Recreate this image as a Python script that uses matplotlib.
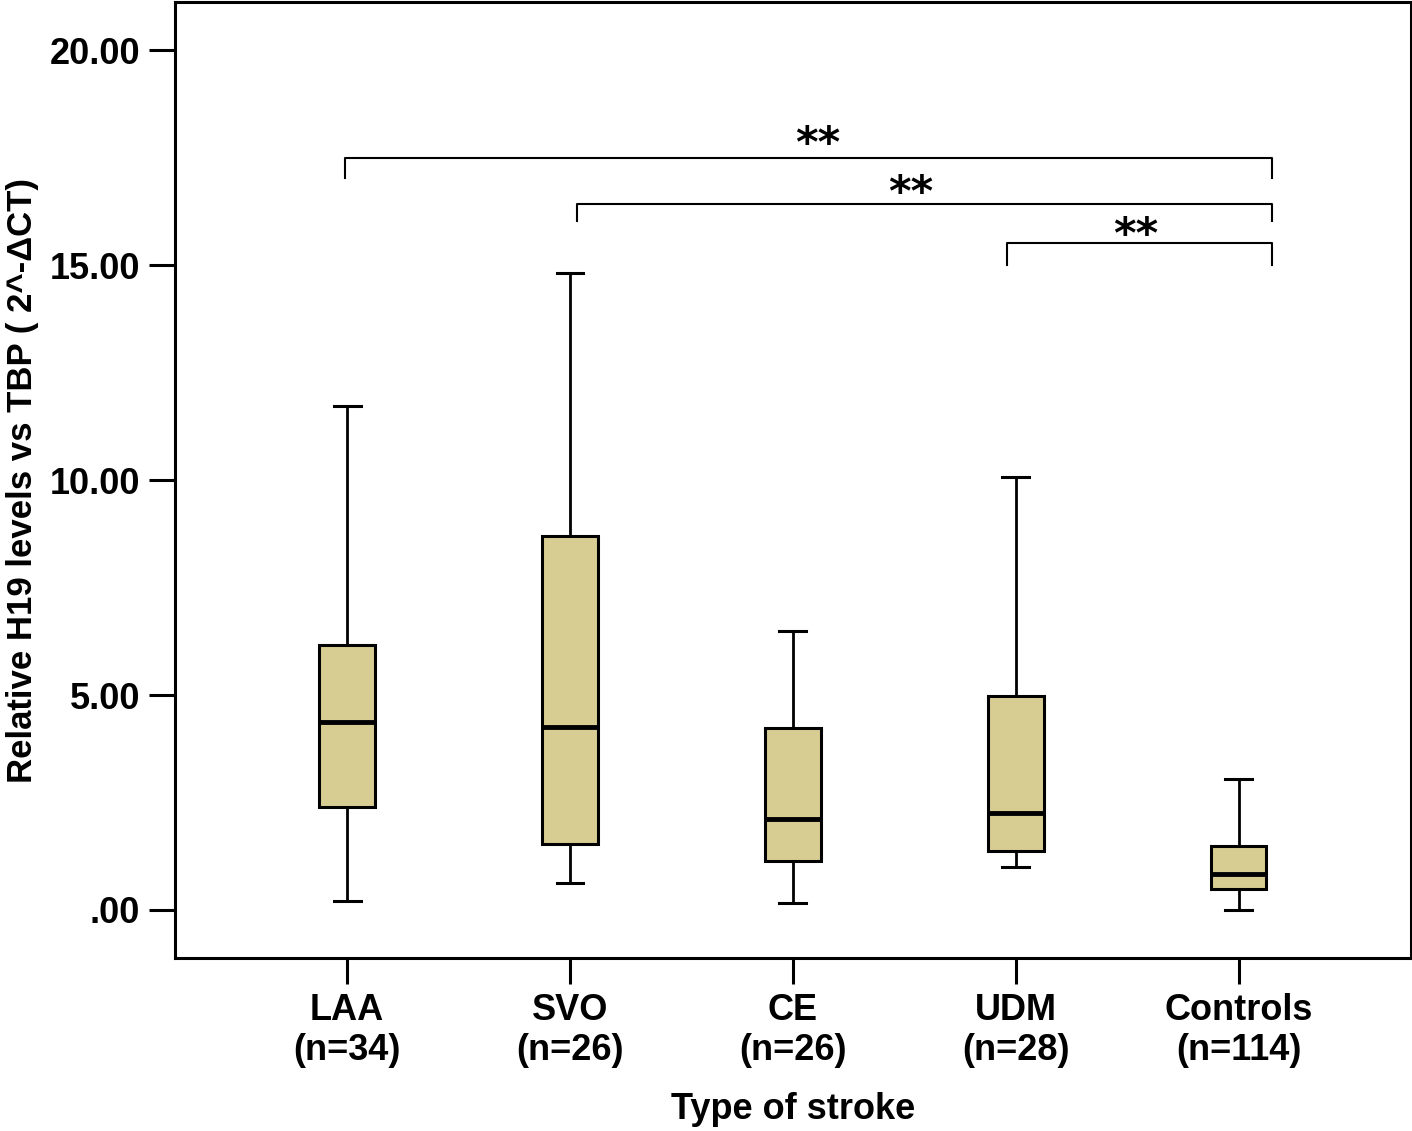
import matplotlib
matplotlib.use("Agg")
import matplotlib.pyplot as plt

plt.rcParams['font.family'] = ['Liberation Sans', 'DejaVu Sans']

# Box statistics
groups = ["LAA", "SVO", "CE", "UDM", "Controls"]
counts = [34, 26, 26, 28, 114]
whislo = [0.21, 0.63, 0.16, 1.00, 0.00]
q1 = [2.40, 1.53, 1.14, 1.37, 0.49]
med = [4.37, 4.26, 2.12, 2.26, 0.84]
q3 = [6.16, 8.70, 4.23, 4.98, 1.49]
whishi = [11.72, 14.81, 6.49, 10.07, 3.05]

# significance brackets
br_start = [-0.01, 1.03, 2.96]
br_end = [4.15, 4.15, 4.15]
br_height = [17.49, 16.42, 15.51]
br_drop = [0.45, 0.40, 0.50]
star_x = [2.11, 2.53, 3.54]
star_y = [17.80, 16.66, 15.68]

stats = []
for i in range(len(groups)):
    stats.append(dict(med=med[i], q1=q1[i], q3=q3[i], whislo=whislo[i],
                      whishi=whishi[i], fliers=[], label=groups[i]))

fig = plt.figure(figsize=(14.12, 11.31), dpi=100)
ax = fig.add_axes([0.124, 0.153, 0.875, 0.845])

ax.bxp(stats, positions=range(len(groups)), widths=0.25, patch_artist=True,
       showfliers=False,
       boxprops=dict(facecolor='#d7cc91', edgecolor='black', linewidth=2.2),
       medianprops=dict(color='black', linewidth=3.5),
       whiskerprops=dict(color='black', linewidth=2),
       capprops=dict(color='black', linewidth=2.2), capwidths=0.12)

for xa, xb, h, d, sx, sy in zip(br_start, br_end, br_height, br_drop, star_x, star_y):
    ax.plot([xa, xa, xb, xb], [h - d, h, h, h - d], color='black',
            linewidth=1.5, solid_joinstyle='round')
    ax.text(sx, sy, '**', ha='center', va='center', fontsize=31,
            fontweight='bold', family='DejaVu Sans')

ax.set_xlim(-0.772, 4.772)
ax.set_ylim(-1.116, 21.12)
ax.set_yticks([0, 5, 10, 15, 20])
ax.set_yticklabels(['.00', '5.00', '10.00', '15.00', '20.00'])
ax.set_xticks(range(len(groups)))
ax.set_xticklabels([f"{g}\n(n={n})" for g, n in zip(groups, counts)],
                   linespacing=1.2)
ax.tick_params(axis='both', direction='out', length=19, width=2.2,
               labelsize=26, pad=6)
for lab in ax.get_xticklabels() + ax.get_yticklabels():
    lab.set_fontweight('bold')
for s in ax.spines.values():
    s.set_linewidth(2.2)

ax.set_xlabel("Type of stroke", fontsize=26, fontweight='bold', labelpad=17)
ax.set_ylabel("Relative H19 levels vs TBP ( 2^-ΔCT)", fontsize=25,
              fontweight='bold')
ax.yaxis.set_label_coords(-0.11, 0.5)

fig.savefig("out.png", dpi=100)
